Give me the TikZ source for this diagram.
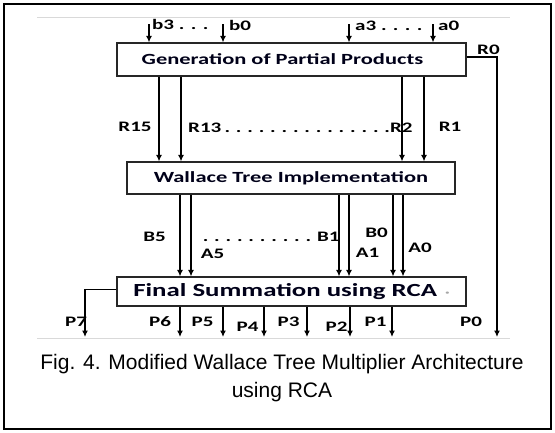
\documentclass[tikz,border=0pt]{standalone}
\usepackage{fontspec}
\setmainfont{Liberation Sans}
\newfontfamily\blockfont[FakeStretch=1.45]{Carlito}
\usetikzlibrary{arrows.meta}

\tikzset{
  block/.style={draw=black!85, line width=1.1pt, fill=white, inner sep=0pt,
    text=black!90!blue, font=\blockfont\bfseries\fontsize{15.5}{18}\selectfont},
  sig/.style={line width=1.4pt, -{Latex[length=6.5pt,width=6pt]}},
  lbl/.style={font=\blockfont\bfseries\fontsize{14.5}{16}\selectfont, inner sep=0pt},
  guide/.style={draw=black!15, line width=0.8pt},
  caption/.style={font=\fontsize{21}{28}\selectfont, align=center, inner sep=0pt},
}

\begin{document}
\begin{tikzpicture}[x=1pt,y=-1pt]
\useasboundingbox (0,0) rectangle (555,432);
\fill[white] (0,0) rectangle (555,432);
\draw[line width=2pt] (4,4) rectangle (551,429);
\draw[guide] (37,17) -- (510,17);
\draw[guide] (37,338) -- (510,338);

% the three processing stages
\node[block, minimum width=349pt, minimum height=33pt] (gpp) at (291.5,59.5) {\hspace*{-18pt}Generation of Partial Products};
\node[block, minimum width=328pt, minimum height=32pt] (wti) at (291,178) {Wallace Tree Implementation};
\node[block, minimum width=349pt, minimum height=29pt, font=\blockfont\bfseries\fontsize{18.5}{20}\selectfont] (frs) at (291.5,291.5) {Final Summation using RCA\hspace{8pt}{\color{black!35}\fontsize{12}{12}\selectfont ·}};

% operand inputs
\foreach \n/\x in {b3/149, b0/223, a3/349, a0/433} {
  \coordinate (in\n) at (\x,24);
  \draw[sig] (in\n) -- (in\n |- gpp.north);
}
\node[lbl, anchor=west] (lb3) at (152,24) {b3 . . .};
\node[lbl, anchor=west] (lb0) at (229,25) {b0};
\node[lbl, anchor=west] (la3) at (355,26) {a3 . . . .};
\node[lbl, anchor=west] (la0) at (438,26) {a0};

% partial product rows into the Wallace tree
\foreach \n/\x in {r15/159, r13/181, r2/402, r1/424} {
  \coordinate (c\n) at (\x,0);
  \draw[sig] (gpp.south -| c\n) -- (wti.north -| c\n);
}
\node[lbl] (lr15) at (135,127) {R15};
\node[lbl, anchor=base west] (lr13) at (188,132) {\makebox[214pt][s]{R13 . . . . . . . . . . . . . . .R2}};
\node[lbl] (lr1) at (450,127) {R1};

% R0 bypasses the tree and becomes P0
\coordinate (p0end) at (497,337);
\draw[sig] ([yshift=2.5pt]gpp.east) -| (p0end);
\node[lbl, anchor=west] (lr0) at (477,50) {R0};

% tree outputs into the adder
\foreach \n/\x in {b5/180, a5/191, b1/339, a1/349, b0/393, a0/403} {
  \coordinate (t\n) at (\x,0);
  \draw[sig] (wti.south -| t\n) -- (frs.north -| t\n);
}
\node[lbl] (lB5) at (154.5,237) {B5};
\node[lbl, anchor=base east] (lB1) at (332,241) {\makebox[129pt][s]{. . . . . . . . . . B1}};
\node[lbl] (lA5) at (212.5,254) {A5};
\node[lbl] (lB0) at (376.5,233) {B0};
\node[lbl] (lA1) at (367.5,253) {A1};
\node[lbl] (lA0) at (420,248) {A0};

% product bits
\coordinate (p7end) at (85,337);
\draw[sig] ([yshift=2pt]frs.west) -| (p7end);
\foreach \n/\x in {p6/180, p5/223, p4/264, p3/307, p2/350, p1/392} {
  \coordinate (\n end) at (\x,337);
  \draw[sig] (frs.south -| \n end) -- (\n end);
}
\node[lbl] (lP7) at (76,322) {P7};
\node[lbl] (lP6) at (160,322) {P6};
\node[lbl] (lP5) at (202.5,322) {P5};
\node[lbl] (lP4) at (247.5,327) {P4};
\node[lbl] (lP3) at (288.5,322) {P3};
\node[lbl] (lP2) at (336.5,327) {P2};
\node[lbl] (lP1) at (375.5,322) {P1};
\node[lbl] (lP0) at (471,322) {P0};

\node[caption] (cap) at (282,378) {Fig. 4. Modified Wallace Tree Multiplier Architecture\\using RCA};
\end{tikzpicture}
\end{document}
